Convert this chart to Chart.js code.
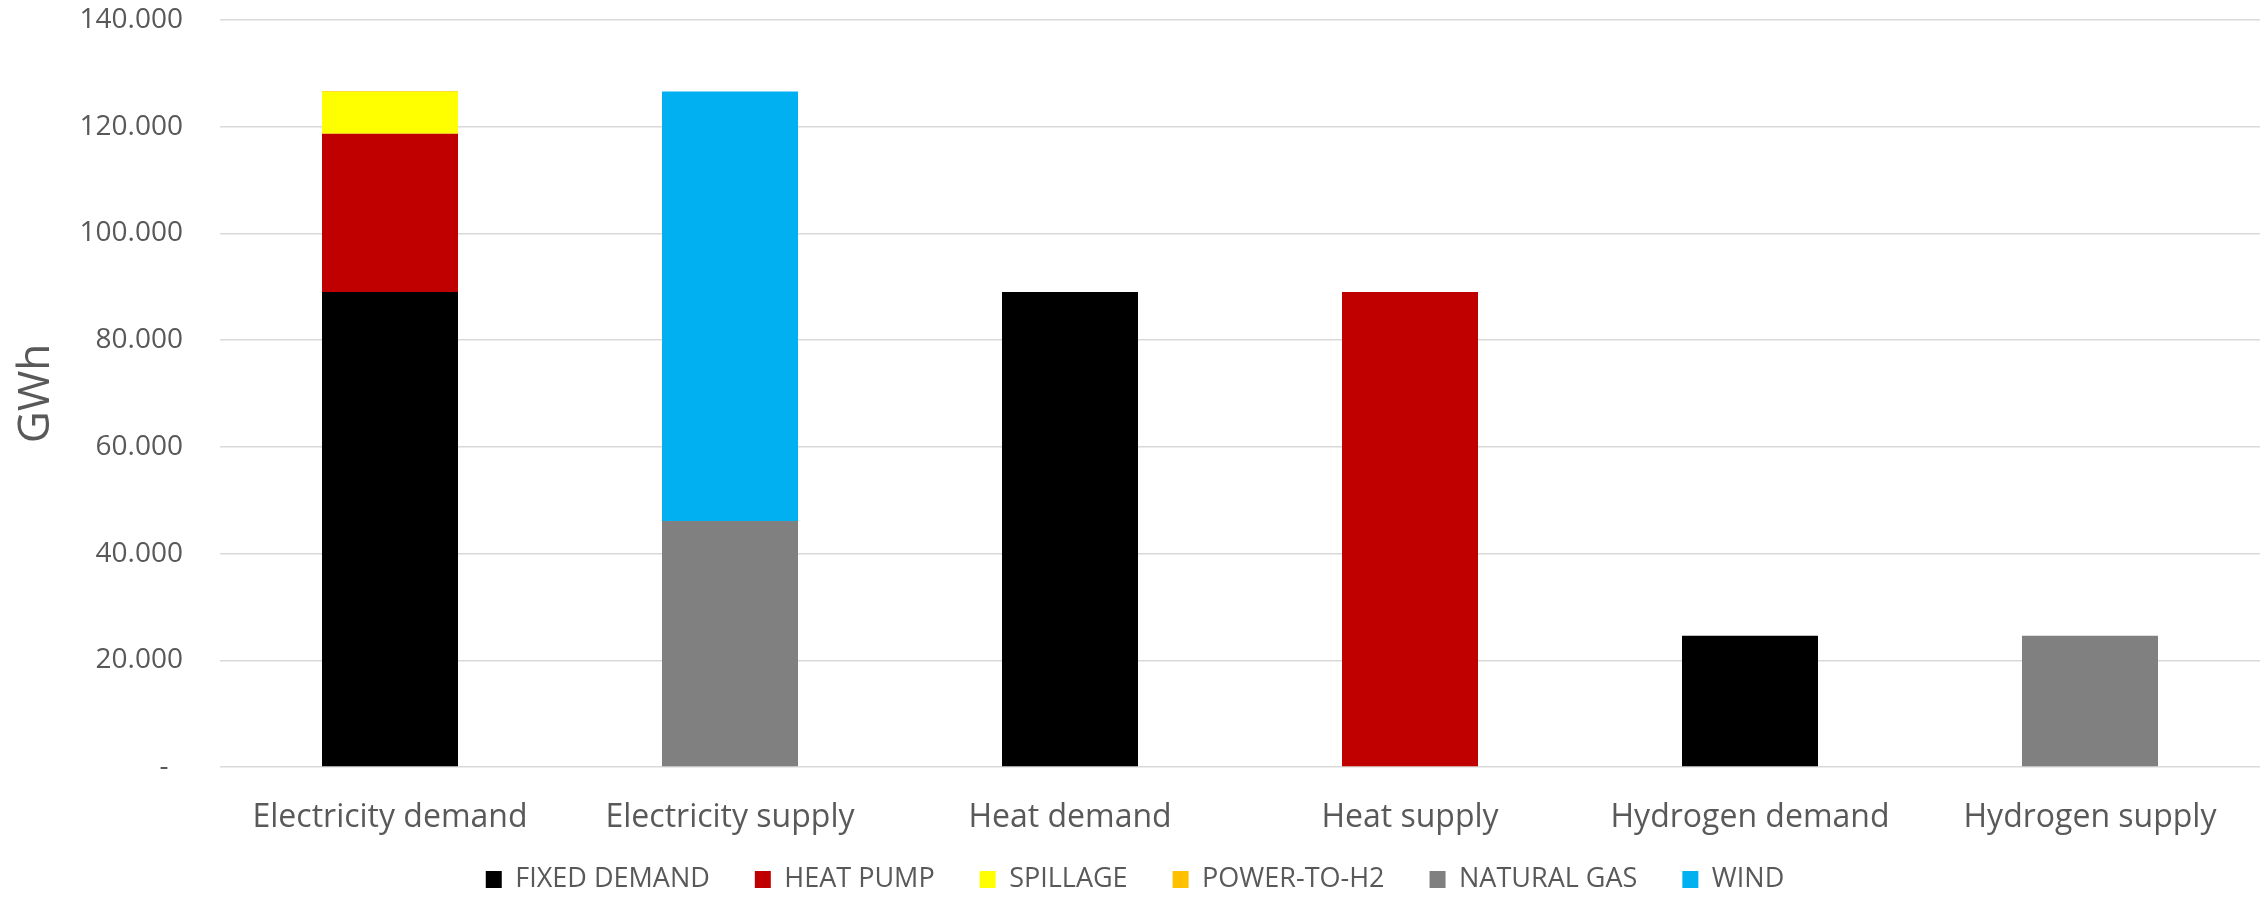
<!DOCTYPE html>
<html>
<head>
<meta charset="utf-8">
<script src="https://cdn.jsdelivr.net/npm/chart.js@4.4.1/dist/chart.umd.min.js"></script>
<style>
  html, body { margin: 0; padding: 0; background: #ffffff; }
  #wrap { width: 2267px; height: 900px; position: relative; }
</style>
</head>
<body>
<div id="wrap"><canvas id="c" width="2267" height="900"></canvas></div>
<script>
const categories = ["Electricity demand", "Electricity supply", "Heat demand", "Heat supply", "Hydrogen demand", "Hydrogen supply"];
const fixedDemand = [89000, null, 89000, null, 24600, null];
const heatPump    = [29700, null, null, 89000, null, null];
const spillage    = [7850, null, null, null, null, null];
const powerToH2   = [150, null, null, null, null, null];
const naturalGas  = [null, 46100, null, null, null, 24600];
const wind        = [null, 80500, null, null, null, null];
const yTickValues = [0, 20000, 40000, 60000, 80000, 100000, 120000, 140000];
const yTickLabels = ["-  ", "20.000", "40.000", "60.000", "80.000", "100.000", "120.000", "140.000"];
const axisTitle = "GWh";

const textColor = "#595959";
const mk = (label, data, color) => ({ label, data, backgroundColor: color, borderWidth: 0, categoryPercentage: 1.0, barPercentage: 0.4 });

const layoutFix = {
  id: "layoutFix",
  afterInit(chart) {
    const lg = chart.legend;
    if (!lg) return;
    const orig = lg.fit;
    lg.fit = function () { orig.call(this); this.height = 79; };
  },
  afterLayout(chart) {
    // let x tick labels extend past the axis box (avoid clipping by legend box)
    chart.scales.x.bottom = chart.height;
  }
};

new Chart(document.getElementById("c"), {
  type: "bar",
  data: {
    labels: categories,
    datasets: [
      mk("FIXED DEMAND", fixedDemand, "#000000"),
      mk("HEAT PUMP", heatPump, "#C00000"),
      mk("SPILLAGE", spillage, "#FFFF00"),
      mk("POWER-TO-H2", powerToH2, "#FFC000"),
      mk("NATURAL GAS", naturalGas, "#808080"),
      mk("WIND", wind, "#00B0F0")
    ]
  },
  plugins: [layoutFix],
  options: {
    responsive: false,
    animation: false,
    devicePixelRatio: 1,
    layout: { padding: { top: 20, right: 7, left: 10, bottom: 0 } },
    plugins: {
      tooltip: { enabled: false },
      legend: {
        position: "bottom",
        labels: {
          font: { family: "Open Sans", size: 27 },
          color: textColor,
          boxWidth: 16,
          boxHeight: 17,
          padding: 45
        }
      }
    },
    scales: {
      x: {
        stacked: true,
        grid: { display: false, drawTicks: false },
        border: { display: false },
        ticks: { font: { family: "Open Sans", size: 32 }, color: textColor, padding: 32, maxRotation: 0, autoSkip: false },
        afterFit: (s) => { s.height = 54; }
      },
      y: {
        stacked: true,
        min: 0,
        max: 140000,
        afterBuildTicks: (s) => { s.ticks = yTickValues.map(v => ({ value: v })); },
        grid: { color: "#d9d9d9", lineWidth: 1.5, drawTicks: false },
        border: { display: false },
        ticks: {
          font: { family: "Open Sans", size: 28 },
          color: textColor,
          padding: 37,
          callback: (v) => { const i = yTickValues.indexOf(v); return i >= 0 ? yTickLabels[i] : ""; }
        },
        title: { display: true, text: axisTitle, font: { family: "Open Sans", size: 44 }, color: textColor, padding: { top: 0, bottom: 0 } },
        afterFit: (s) => { s.width = 210; s.paddingTop = 10; s.paddingBottom = 10; }
      }
    }
  }
});
</script>
</body>
</html>
